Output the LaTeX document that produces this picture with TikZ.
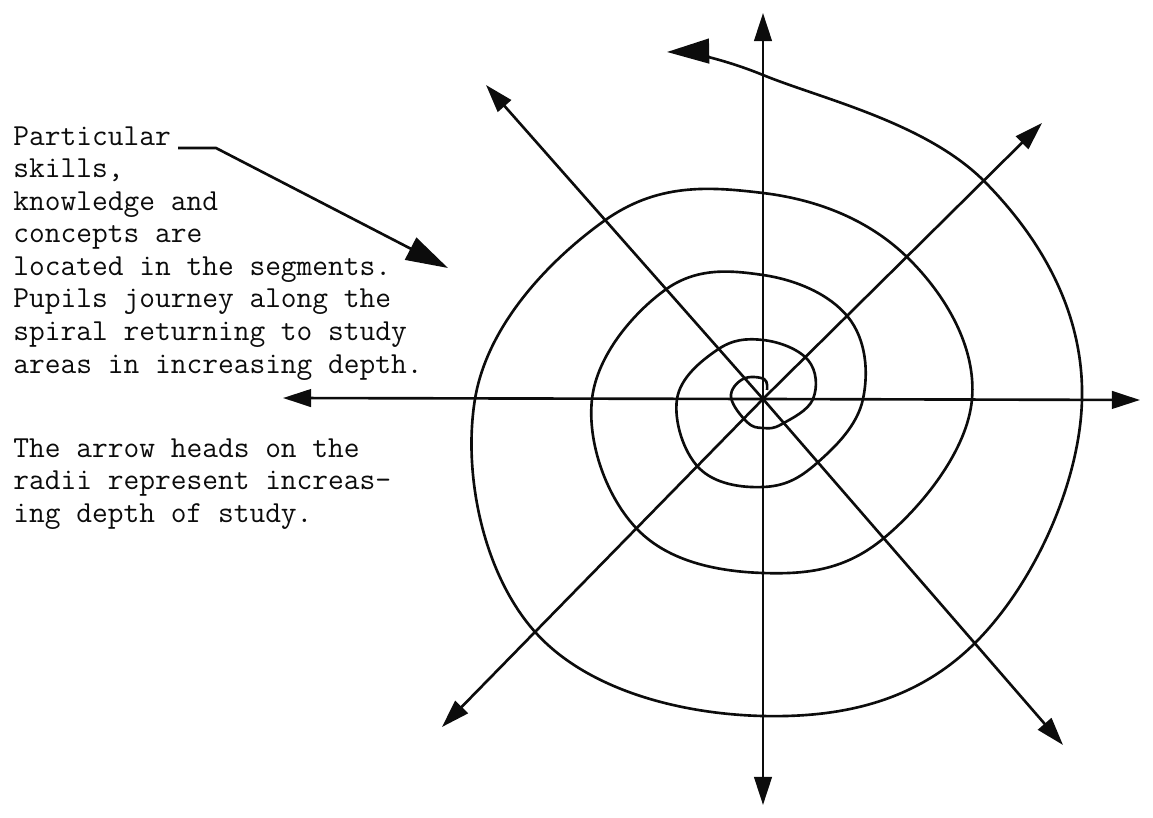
\documentclass[tikz,border=0pt]{standalone}
\usepackage{fontspec}
\usepackage{xcolor}
\definecolor{Ink}{RGB}{12,12,12}
\usepackage{tikz}
\usetikzlibrary{arrows.meta, positioning}
\tikzset{
  % radii: arrow heads at the outer end
  radarr/.style={-{Triangle[length=16pt,width=10pt]}, line width=1.5pt, Ink},
  % big heads (spiral end, pointer)
  bigarr/.style={-{Triangle[length=24pt,width=14pt]}, line width=1.5pt, Ink},
  spiralline/.style={line width=1.5pt, Ink, line join=round},
  % typed notes on the left
  notetext/.style={font=\ttfamily\fontsize{17.4}{18.55}\selectfont,
    align=left, inner sep=0pt, text=Ink},
}

\begin{document}
\begin{tikzpicture}[x=0.02cm, y=-0.02cm]
  \useasboundingbox (0,0) rectangle (1153,818);

  %% notes
  \node[notetext, anchor=north west] (segtext) at (13,126)
    {Particular\\skills,\\knowledge and\\concepts are\\located in the segments.\\
     Pupils journey along the\\spiral returning to study\\areas in increasing depth.};
  \node[notetext, below=1.15cm of segtext.south west, anchor=north west] (headtext)
    {The arrow heads on the\\radii represent increas-\\ing depth of study.};

  %% radii
  \coordinate (ctr)    at (763,399);
  \coordinate (tipN)   at (763,13);
  \coordinate (tipS)   at (763,805);
  \coordinate (tipW)   at (283,398);
  \coordinate (tipE)   at (1140,400);
  \coordinate (tipNW)  at (486,85);
  \coordinate (tipSE)  at (1063,745);
  \coordinate (tipNE)  at (1042,123);
  \coordinate (tipSW)  at (442,727);
  \foreach \t in {N,S,W,E,NW,SE,NE,SW}
    \draw[radarr] (ctr) -- (tip\t);

  %% pointer from the notes
  \coordinate (lead)   at (178,148);
  \coordinate (lbend)  at (216,148);
  \coordinate (segtip) at (448,268);
  \draw[bigarr] (lead) -- (lbend) -- (segtip);

  %% the spiral, through the points where it crosses the radii
  \draw[spiralline, bigarr] plot[smooth, tension=0.66] coordinates {
    (767,390) (764,379) (743,379) (731,397) (747,422) (763,428) (782,424)
    (813,399) (808,360) (763,340) (717,350) (677,399) (699,468) (763,487)
    (817,463) (863,399) (848,317) (763,275) (665,290) (592,399) (638,530)
    (763,573) (884,538) (972,399) (908,258) (763,193) (604,221) (475,399)
    (536,633) (763,716) (975,643) (1082,399) (985,182) (763,75) (667,52)};

\end{tikzpicture}
\end{document}
